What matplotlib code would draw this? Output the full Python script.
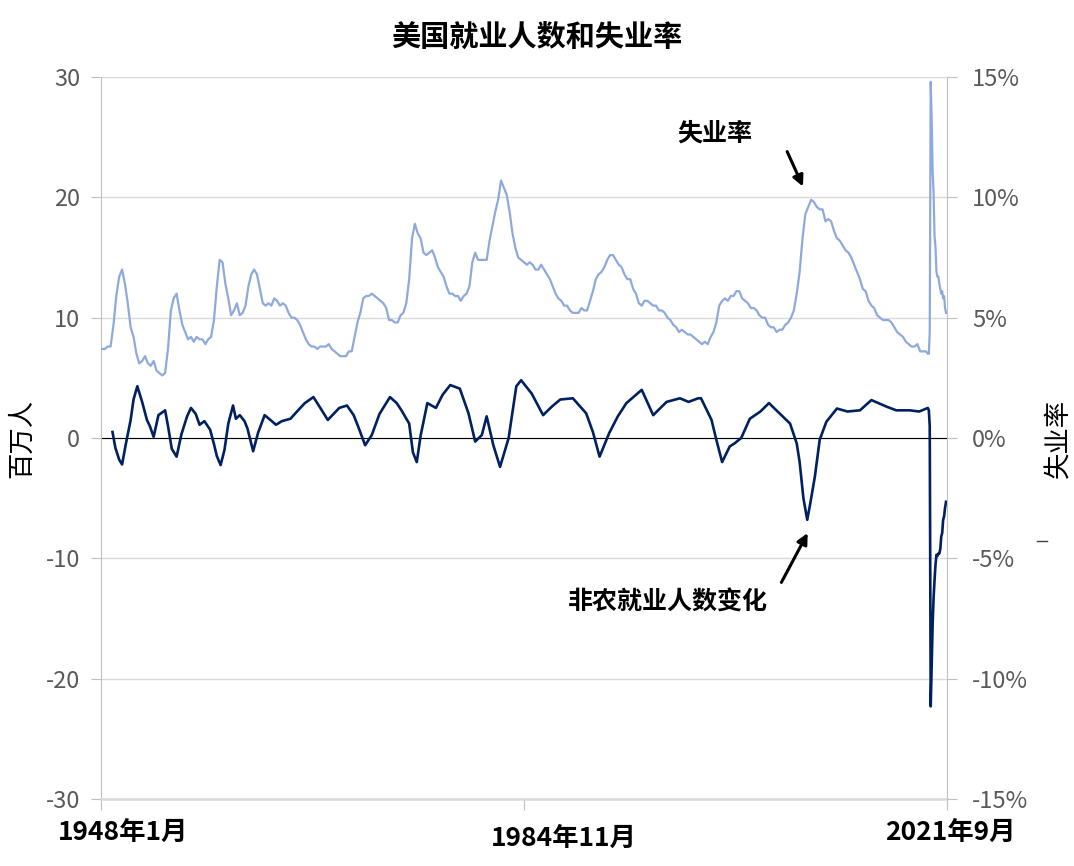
import numpy as np
import pandas as pd
import matplotlib
matplotlib.use('Agg')
from matplotlib import pyplot as plt
from matplotlib import font_manager, transforms
from matplotlib.lines import Line2D

# ---- data ----
# unemployment rate, %, quarterly 1948Q1 .. 2019Q4
ur_quarterly = [
  3.7, 3.7, 3.8, 3.8,   4.7, 5.9, 6.7, 7.0,   6.4, 5.6, 4.6, 4.2,
  3.5, 3.1, 3.2, 3.4,   3.1, 3.0, 3.2, 2.8,   2.7, 2.6, 2.7, 3.7,
  5.3, 5.8, 6.0, 5.3,   4.7, 4.4, 4.1, 4.2,   4.0, 4.2, 4.1, 4.1,
  3.9, 4.1, 4.2, 4.9,   6.3, 7.4, 7.3, 6.4,   5.8, 5.1, 5.3, 5.6,
  5.1, 5.2, 5.5, 6.3,   6.8, 7.0, 6.8, 6.2,   5.6, 5.5, 5.6, 5.5,
  5.8, 5.7, 5.5, 5.6,   5.5, 5.2, 5.0, 5.0,   4.9, 4.7, 4.4, 4.1,
  3.9, 3.8, 3.8, 3.7,   3.8, 3.8, 3.8, 3.9,   3.7, 3.6, 3.5, 3.4,
  3.4, 3.4, 3.6, 3.6,   4.2, 4.8, 5.2, 5.8,   5.9, 5.9, 6.0, 5.9,
  5.8, 5.7, 5.6, 5.4,   4.9, 4.9, 4.8, 4.8,   5.1, 5.2, 5.6, 6.6,
  8.3, 8.9, 8.5, 8.3,   7.7, 7.6, 7.7, 7.8,   7.5, 7.1, 6.9, 6.7,
  6.3, 6.0, 6.0, 5.9,   5.9, 5.7, 5.9, 6.0,   6.3, 7.3, 7.7, 7.4,
  7.4, 7.4, 7.4, 8.2,   8.8, 9.4, 9.9, 10.7,  10.4, 10.1, 9.4, 8.5,
  7.9, 7.5, 7.4, 7.3,   7.2, 7.3, 7.2, 7.0,   7.0, 7.2, 7.0, 6.8,
  6.6, 6.3, 6.0, 5.8,   5.7, 5.5, 5.5, 5.3,   5.2, 5.2, 5.2, 5.4,
  5.3, 5.3, 5.7, 6.1,   6.6, 6.8, 6.9, 7.1,   7.4, 7.6, 7.6, 7.4,
  7.2, 7.1, 6.8, 6.6,   6.6, 6.2, 6.0, 5.6,   5.5, 5.7, 5.7, 5.6,
  5.5, 5.5, 5.3, 5.3,   5.2, 5.0, 4.9, 4.7,   4.6, 4.4, 4.5, 4.4,
  4.3, 4.3, 4.2, 4.1,   4.0, 3.9, 4.0, 3.9,   4.2, 4.4, 4.8, 5.5,
  5.7, 5.8, 5.7, 5.9,   5.9, 6.1, 6.1, 5.8,   5.7, 5.6, 5.4, 5.4,
  5.3, 5.1, 5.0, 5.0,   4.7, 4.6, 4.6, 4.4,   4.5, 4.5, 4.7, 4.8,
  5.0, 5.3, 6.0, 6.9,   8.3, 9.3, 9.6, 9.9,   9.8, 9.6, 9.5, 9.5,
  9.0, 9.1, 9.0, 8.6,   8.3, 8.2, 8.0, 7.8,   7.7, 7.5, 7.2, 6.9,
  6.6, 6.2, 6.1, 5.7,   5.5, 5.4, 5.1, 5.0,   4.9, 4.9, 4.9, 4.8,
  4.6, 4.4, 4.3, 4.2,   4.0, 3.9, 3.8, 3.8,   3.9, 3.6, 3.6, 3.6,
]
# unemployment rate, %, monthly 2020-01 .. 2021-08
ur_monthly = [3.5, 3.5, 4.4, 14.8, 13.3, 11.1, 10.2, 8.4, 7.9, 6.9, 6.7, 6.7,
              6.4, 6.2, 6.0, 6.1, 5.8, 5.9, 5.4, 5.2]

# nonfarm payroll change, millions
pay_month = [
  '1949-01', '1949-04', '1949-08', '1949-11', '1950-03', '1950-08', '1950-11',
  '1951-03', '1951-08', '1952-01', '1952-04', '1952-08', '1953-01', '1953-08',
  '1953-11', '1954-03', '1954-08', '1955-01', '1955-07', '1955-11', '1956-04',
  '1956-08', '1957-01', '1957-07', '1957-11', '1958-02', '1958-06', '1958-10',
  '1959-02', '1959-07', '1959-10', '1960-02', '1960-07', '1960-10', '1961-04',
  '1961-09', '1962-04', '1962-10', '1963-04', '1963-10', '1964-07', '1965-03',
  '1965-10', '1966-07', '1967-03', '1967-10', '1968-04', '1968-10', '1969-06',
  '1970-01', '1970-06', '1971-01', '1971-08', '1972-04', '1973-03', '1973-10',
  '1974-03', '1974-11', '1975-03', '1975-07', '1975-11', '1976-06', '1977-03',
  '1977-10', '1978-06', '1979-04', '1980-01', '1980-08', '1981-03', '1981-08',
  '1982-03', '1982-10', '1983-07', '1984-03', '1984-08', '1985-07', '1986-07',
  '1987-04', '1988-01', '1989-02', '1990-04', '1990-11', '1991-06', '1992-04',
  '1993-01', '1993-10', '1995-02', '1996-02', '1997-04', '1998-06', '1999-03',
  '2000-01', '2000-04', '2001-03', '2001-08', '2002-02', '2002-10', '2003-03',
  '2003-10', '2004-07', '2005-06', '2006-03', '2007-02', '2008-01', '2008-08',
  '2008-11', '2009-03', '2009-07', '2009-10', '2010-03', '2010-08', '2011-03',
  '2012-02', '2013-01', '2014-02', '2015-02', '2016-06', '2017-04', '2018-06',
  '2019-04', '2020-01', '2020-02', '2020-03', '2020-04', '2020-05', '2020-06',
  '2020-07', '2020-08', '2020-09', '2020-10', '2020-11', '2020-12', '2021-01',
  '2021-02', '2021-03', '2021-04', '2021-05', '2021-06', '2021-07', '2021-08',
]
pay_change = [
  0.5, -0.8, -1.8, -2.2, -0.5, 1.5, 3.2,
  4.3, 3.0, 1.5, 1.0, 0.1, 1.9, 2.3,
  1.0, -0.9, -1.55, 0.3, 1.8, 2.5, 2.0,
  1.1, 1.4, 0.7, -0.5, -1.5, -2.25, -1.0,
  1.2, 2.7, 1.6, 1.9, 1.4, 0.8, -1.1,
  0.4, 1.9, 1.5, 1.1, 1.4, 1.6, 2.3,
  2.9, 3.4, 2.4, 1.5, 2.0, 2.5, 2.7,
  1.9, 0.9, -0.6, 0.25, 2.0, 3.4, 2.9,
  2.3, 1.2, -1.2, -2.0, 0.2, 2.9, 2.5,
  3.6, 4.4, 4.1, 2.05, -0.3, 0.25, 1.8,
  -0.6, -2.4, 0.0, 4.3, 4.8, 3.7, 1.9,
  2.6, 3.2, 3.3, 2.05, 0.5, -1.55, 0.4,
  1.8, 2.9, 4.0, 1.9, 3.0, 3.3, 3.0,
  3.3, 3.3, 1.5, -0.15, -2.0, -0.7, -0.45,
  0.0, 1.6, 2.2, 2.9, 2.05, 1.2, -0.45,
  -2.0, -5.0, -6.8, -5.5, -3.2, -0.15, 1.35,
  2.45, 2.2, 2.3, 3.15, 2.6, 2.3, 2.3,
  2.2, 2.5, 2.3, 1.0, -22.3, -19.0, -15.5,
  -13.3, -11.8, -10.5, -9.7, -9.8, -9.6, -9.6,
  -9.2, -8.2, -7.9, -6.8, -6.5, -5.8, -5.3,
]

tick_dates = ['1948-01', '1984-11', '2021-09']
tick_labels = ['1948年1月', '1984年11月', '2021年9月']

# ---- fonts ----
cjk = 'Noto Sans CJK SC'
installed = {f.name for f in font_manager.fontManager.ttflist}
num_font = 'Liberation Sans Narrow' if 'Liberation Sans Narrow' in installed else cjk
plt.rcParams['font.family'] = [cjk, 'DejaVu Sans']

# ---- build series ----
ur_dates = list(pd.date_range('1948-02-01', periods=len(ur_quarterly), freq='3MS')) + \
           list(pd.date_range('2020-01-01', periods=len(ur_monthly), freq='MS'))
ur_vals = ur_quarterly + ur_monthly
pay_dates = pd.to_datetime(pay_month)

light_blue = '#8EA9DB'
navy = '#002060'
grey_txt = '#595959'
axis_grey = '#BFBFBF'

fig = plt.figure(figsize=(10.74, 8.66), dpi=100)
ax = fig.add_axes([101/1074, 1 - 799/866, 846/1074, 722/866])
ax2 = ax.twinx()

ax.plot(pay_dates, pay_change, color=navy, lw=1.9, zorder=3)
ax.axhline(0, color='black', lw=0.8, zorder=2)
ax2.plot(ur_dates, ur_vals, color=light_blue, lw=1.6)

ax.set_xlim(pd.Timestamp('1948-01-01'), pd.Timestamp('2021-09-01'))
ax.set_ylim(-30, 30)
ax2.set_ylim(-15, 15)

ax.set_yticks(range(-30, 31, 10), labels=[str(v) for v in range(-30, 31, 10)],
              fontfamily=num_font)
ax2.set_yticks(range(-15, 16, 5), labels=[f'{v}%' for v in range(-15, 16, 5)],
               fontfamily=num_font)
ax.grid(axis='y', color='#D9D9D9', lw=1)
ax.set_axisbelow(True)

ax.set_xticks(pd.to_datetime(tick_dates), labels=tick_labels,
              fontfamily=[num_font, cjk], fontweight='bold')
ax.tick_params(axis='x', length=8, color=axis_grey, labelsize=19, labelcolor='black', pad=6)
ax.tick_params(axis='y', length=7, color=axis_grey, labelsize=17, labelcolor=grey_txt, pad=8)
ax2.tick_params(axis='y', length=7, color=axis_grey, labelsize=17, labelcolor=grey_txt, pad=11)

# nudge x labels like the original layout
for lbl, dx, dy in zip(ax.get_xticklabels(), [22, 40, 3], [0, -6, 0]):
  lbl.set_transform(lbl.get_transform() +
                    transforms.ScaledTranslation(dx / 100, dy / 100, fig.dpi_scale_trans))

for a in (ax, ax2):
  a.spines['top'].set_visible(False)
ax.spines['right'].set_visible(False)
ax2.spines['left'].set_visible(False)
ax2.spines['bottom'].set_visible(False)
ax.spines['left'].set_color(axis_grey)
ax2.spines['right'].set_color(axis_grey)
ax.spines['bottom'].set_color('#D9D9D9')
ax.spines['bottom'].set_linewidth(1.8)

ax.set_ylabel('百万人', fontsize=19)
ax.yaxis.set_label_coords(-0.078, 0.5)
ax2.set_ylabel('失业率', fontsize=19)
ax2.yaxis.set_label_coords(1.116, 0.5)
fig.suptitle('美国就业人数和失业率', fontsize=21, fontweight='bold', y=0.975)

# annotations
arrow = dict(arrowstyle='-|>', color='black', lw=2.2, mutation_scale=16, shrinkA=0, shrinkB=0)
ax.annotate('', xy=(pd.Timestamp('2009-02-15'), 20.9),
            xytext=(pd.Timestamp('2007-10-01'), 23.8), arrowprops=arrow)
ax.text(pd.Timestamp('2001-06-01'), 25.3, '失业率', fontsize=18, fontweight='bold',
        ha='center', va='center')
ax.annotate('', xy=(pd.Timestamp('2009-07-15'), -7.9),
            xytext=(pd.Timestamp('2007-04-01'), -12.0), arrowprops=arrow)
ax.text(pd.Timestamp('1997-05-01'), -13.7, '非农就业人数变化', fontsize=18, fontweight='bold',
        ha='center', va='center')

fig.add_artist(Line2D([1037/1074, 1047/1074], [1 - 541/866] * 2, color='#404040', lw=1))

fig.savefig('out.png', dpi=100)
